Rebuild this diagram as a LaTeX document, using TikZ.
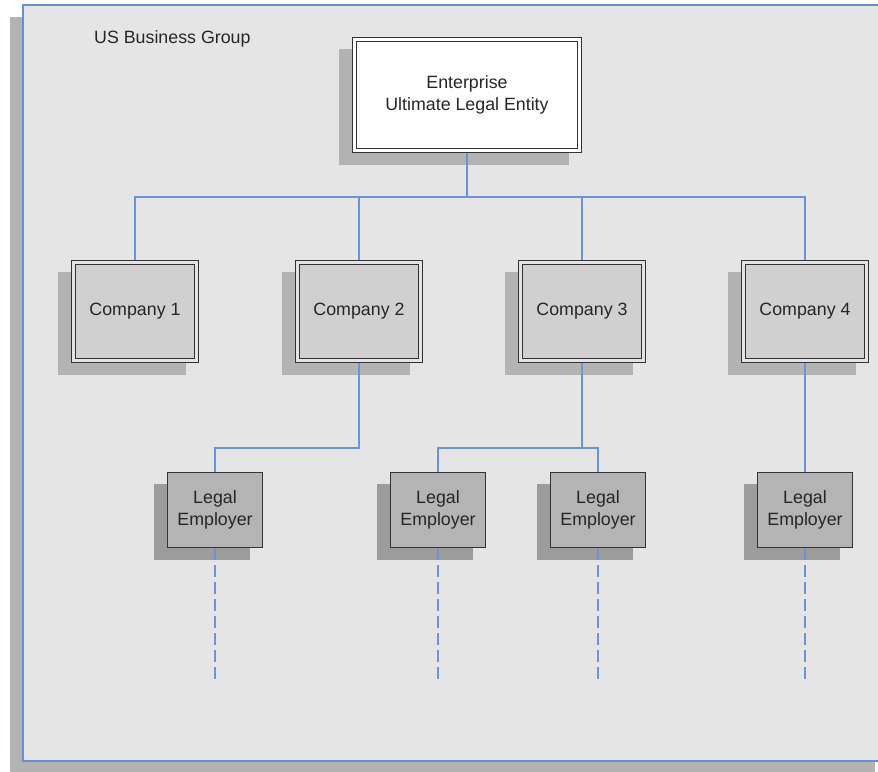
\documentclass[tikz,border=0pt]{standalone}
\usepackage{fontspec}
\setmainfont{Liberation Sans}
\definecolor{framefill}{HTML}{E5E5E5}
\definecolor{frameblue}{HTML}{6A90D2}
\definecolor{connblue}{HTML}{6B93D6}
\definecolor{shadowlight}{HTML}{B3B3B3}
\definecolor{shadowdark}{HTML}{9C9C9C}
\definecolor{compfill}{HTML}{D0D0D0}
\definecolor{lefill}{HTML}{B4B4B4}
\definecolor{edge}{HTML}{333333}
\definecolor{txt}{HTML}{262626}
\pgfdeclarelayer{framelayer}
\pgfdeclarelayer{shadowlayer}
\pgfsetlayers{framelayer,shadowlayer,main}
\tikzset{
  lbl/.style={font=\fontsize{17.8}{22}\selectfont, text=txt, align=center},
  entbox/.style={lbl, rectangle, draw=edge, line width=1.1pt, double=white, double distance=2.6pt,
    fill=white, minimum width=225pt, minimum height=111pt, inner sep=0pt, outer sep=2.4pt},
  compbox/.style={lbl, rectangle, draw=edge, line width=1.1pt, double=compfill!60!white, double distance=2.6pt,
    fill=compfill, minimum width=123pt, minimum height=98pt, inner sep=0pt, outer sep=2.4pt},
  lebox/.style={lbl, rectangle, draw=edge, line width=1.3pt, fill=lefill,
    minimum width=95pt, minimum height=75pt, inner sep=0pt},
  conn/.style={draw=connblue, line width=1.4pt},
  dashln/.style={draw=connblue, line width=1.1pt, dash pattern=on 12pt off 5pt},
}
\newcommand{\shadowof}[2]{%
  \fill[#2] ([shift={(-13,12)}]#1.north west) rectangle ([shift={(-13,12)}]#1.south east);}
\begin{document}
\begin{tikzpicture}[x=1pt, y=-1pt]
\useasboundingbox (0,0) rectangle (878,771);
\clip (0,0) rectangle (878,771);
% outer frame with shadow
\begin{pgfonlayer}{framelayer}
\fill[shadowlight] (10,17) rectangle (875,775);
\draw[frameblue, line width=2pt, fill=framefill] (23,5) rectangle (895,761);
\end{pgfonlayer}
\node[lbl, anchor=base west, inner sep=0pt] (grp) at (94,43) {US Business Group};

% nodes
\node[entbox] (ent) at (467,95) {Enterprise\\Ultimate Legal Entity};
\node[compbox] (c1) at (135,311.5) {Company 1};
\node[compbox] (c2) at (359,311.5) {Company 2};
\node[compbox] (c3) at (582,311.5) {Company 3};
\node[compbox] (c4) at (805,311.5) {Company 4};
\node[lebox] (l1) at (215,510) {Legal\\Employer};
\node[lebox] (l2) at (438,510) {Legal\\Employer};
\node[lebox] (l3) at (598,510) {Legal\\Employer};
\node[lebox] (l4) at (805,510) {Legal\\Employer};

% shadows
\begin{pgfonlayer}{shadowlayer}
\shadowof{ent}{shadowlight}
\shadowof{c1}{shadowlight}
\shadowof{c2}{shadowlight}
\shadowof{c3}{shadowlight}
\shadowof{c4}{shadowlight}
\shadowof{l1}{shadowdark}
\shadowof{l2}{shadowdark}
\shadowof{l3}{shadowdark}
\shadowof{l4}{shadowdark}
\end{pgfonlayer}

% junction coordinates
\coordinate (bar) at (467,197);
\coordinate (j2) at (359,448);
\coordinate (j3) at (582,448);
\coordinate (d1) at (215,680);
\coordinate (d2) at (438,680);
\coordinate (d3) at (598,680);
\coordinate (d4) at (805,680);

% connectors
\draw[conn] (ent.south) -- (bar);
\draw[conn] (c1.north) -- (c1.north |- bar) -- (c4.north |- bar) -- (c4.north);
\draw[conn] (c2.north |- bar) -- (c2.north);
\draw[conn] (c3.north |- bar) -- (c3.north);
\draw[conn] (c2.south) -- (j2) -| (l1.north);
\draw[conn] (c3.south) -- (j3);
\draw[conn] (l2.north) |- (l3.north |- j3) -- (l3.north);
\draw[conn] (c4.south) -- (l4.north);

% dashed continuations
\draw[dashln] (l1.south) -- (d1);
\draw[dashln] (l2.south) -- (d2);
\draw[dashln] (l3.south) -- (d3);
\draw[dashln] (l4.south) -- (d4);
\end{tikzpicture}
\end{document}
